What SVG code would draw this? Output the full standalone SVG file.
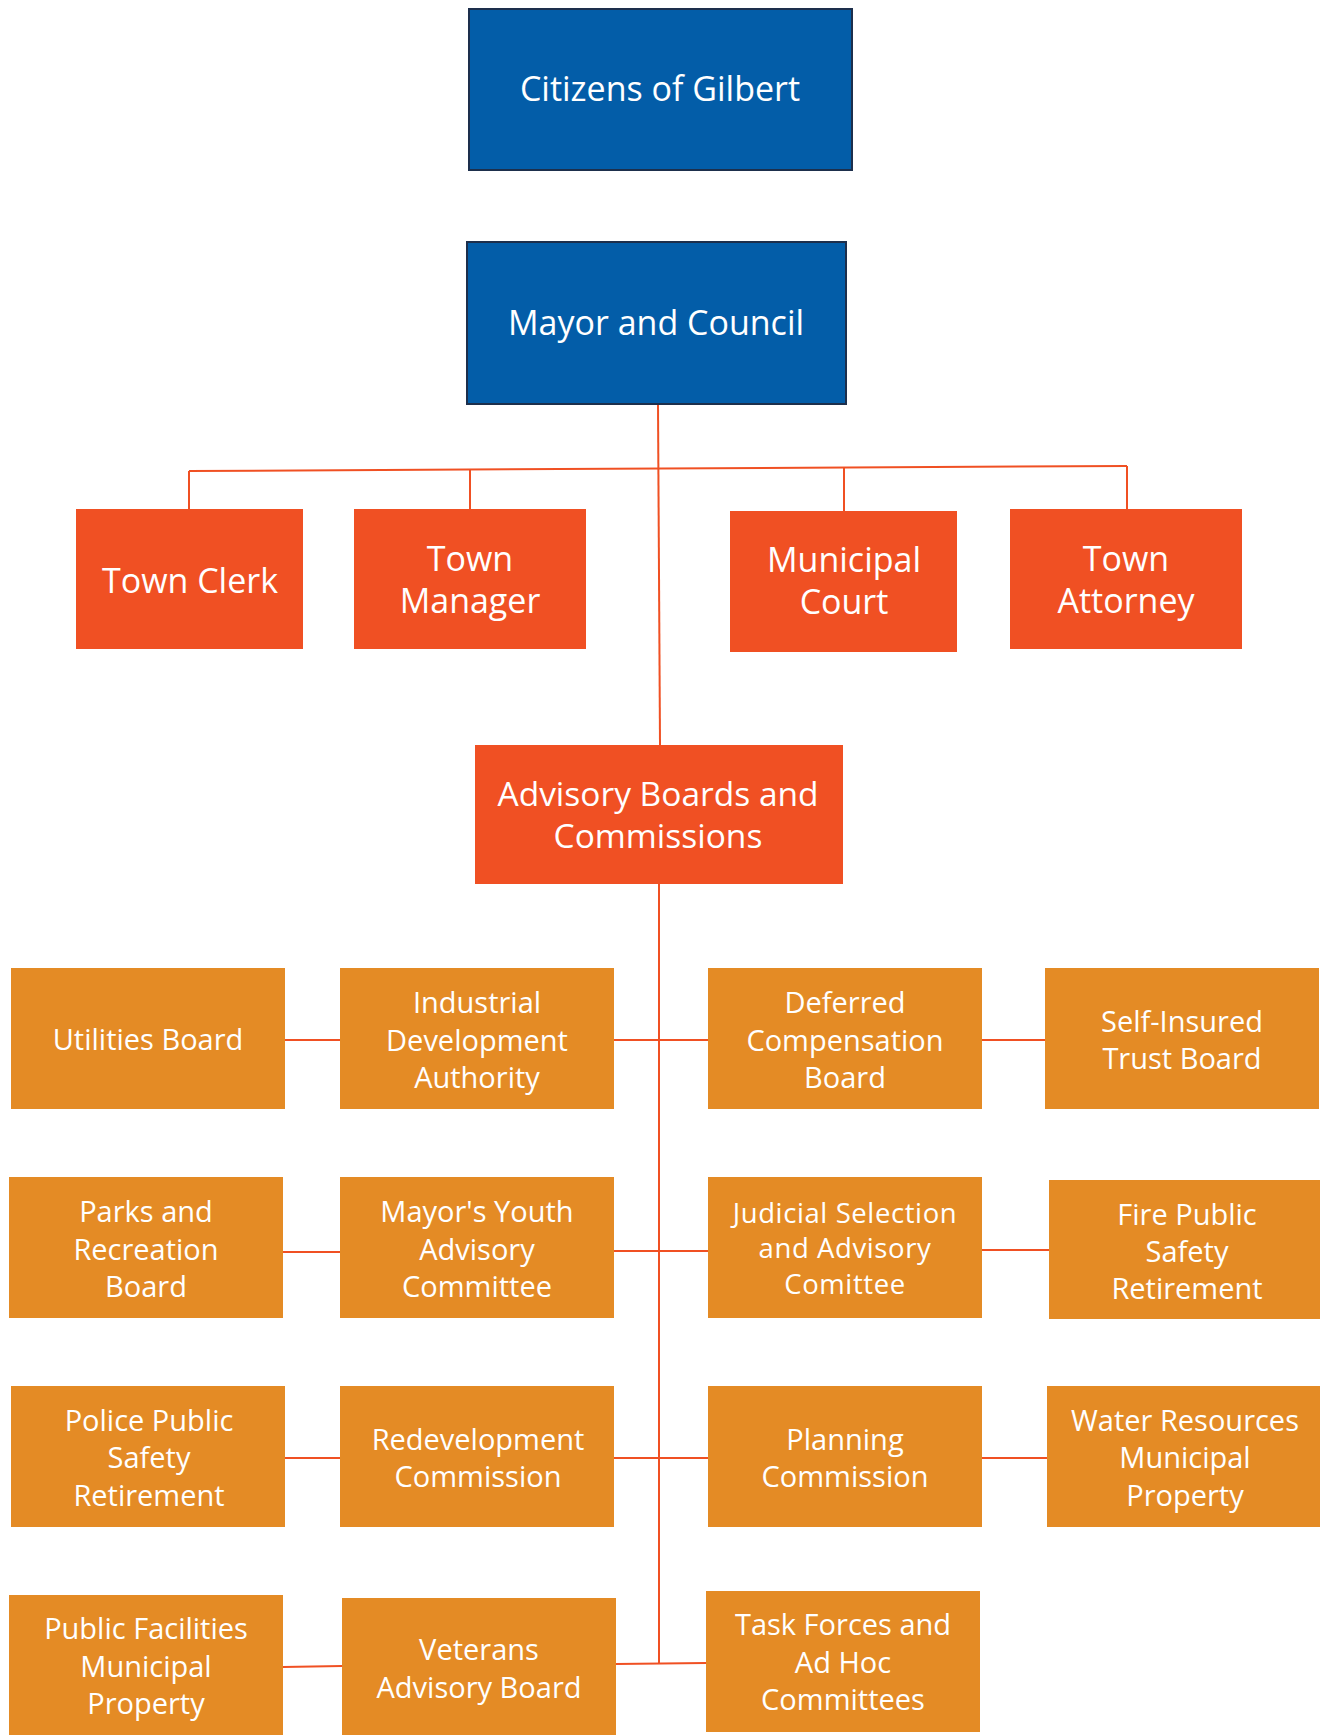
<svg xmlns="http://www.w3.org/2000/svg" width="1320" height="1735" viewBox="0 0 1320 1735">
<style>
.blue{fill:#035DA8;stroke:#1D2F4C;stroke-width:2}
.red{fill:#F05023}
.org{fill:#E48B25}
text{fill:#FFFFFF;font-family:"Open Sans","Liberation Sans",sans-serif;text-anchor:middle}
.t1{font-size:34px}
.t1b{font-size:33.5px}
.t2{font-size:29px}
.t3{font-size:27.5px;letter-spacing:0.6px}
.conn line{stroke:#F05023;stroke-width:2;fill:none}
</style>
<rect width="1320" height="1735" fill="#FFFFFF"/>
<g class="conn" id="connectors">
<line x1="658" y1="404" x2="660" y2="745"/>
<line x1="189" y1="471" x2="1127" y2="466"/>
<line x1="189" y1="471" x2="189" y2="509"/>
<line x1="470" y1="470" x2="470" y2="509"/>
<line x1="844" y1="467" x2="844" y2="511"/>
<line x1="1127" y1="466" x2="1127" y2="509"/>
<line x1="659" y1="884" x2="659" y2="1664"/>
<line x1="285" y1="1040" x2="340" y2="1040"/>
<line x1="614" y1="1040" x2="708" y2="1040"/>
<line x1="982" y1="1040" x2="1045" y2="1040"/>
<line x1="283" y1="1252" x2="340" y2="1252"/>
<line x1="614" y1="1251" x2="708" y2="1251"/>
<line x1="982" y1="1250" x2="1049" y2="1250"/>
<line x1="285" y1="1458" x2="340" y2="1458"/>
<line x1="614" y1="1458" x2="708" y2="1458"/>
<line x1="982" y1="1458" x2="1047" y2="1458"/>
<line x1="283" y1="1667" x2="342" y2="1666"/>
<line x1="616" y1="1664" x2="706" y2="1663"/>
</g>
<g id="citizens"><rect class="blue" x="469" y="9" width="383" height="161"/><text class="t1" x="660" y="101">Citizens of Gilbert</text></g>
<g id="mayor"><rect class="blue" x="467" y="242" width="379" height="162"/><text class="t1" x="656" y="335">Mayor and Council</text></g>
<g id="town-clerk"><rect class="red" x="76" y="509" width="227" height="140"/><text class="t1" x="190" y="593">Town Clerk</text></g>
<g id="town-manager"><rect class="red" x="354" y="509" width="232" height="140"/><text class="t1" x="470" y="571">Town</text><text class="t1" x="470" y="613">Manager</text></g>
<g id="municipal-court"><rect class="red" x="730" y="511" width="227" height="141"/><text class="t1" x="844" y="572">Municipal</text><text class="t1" x="844" y="614">Court</text></g>
<g id="town-attorney"><rect class="red" x="1010" y="509" width="232" height="140"/><text class="t1" x="1126" y="571">Town</text><text class="t1" x="1126" y="613">Attorney</text></g>
<g id="advisory"><rect class="red" x="475" y="745" width="368" height="139"/><text class="t1b" x="658" y="806">Advisory Boards and</text><text class="t1b" x="658" y="848">Commissions</text></g>
<g id="utilities"><rect class="org" x="11" y="968" width="274" height="141"/><text class="t2" x="148" y="1050">Utilities Board</text></g>
<g id="industrial"><rect class="org" x="340" y="968" width="274" height="141"/><text class="t2" x="477" y="1013">Industrial</text><text class="t2" x="477" y="1051">Development</text><text class="t2" x="477" y="1088">Authority</text></g>
<g id="deferred"><rect class="org" x="708" y="968" width="274" height="141"/><text class="t2" x="845" y="1013">Deferred</text><text class="t2" x="845" y="1051">Compensation</text><text class="t2" x="845" y="1088">Board</text></g>
<g id="self-insured"><rect class="org" x="1045" y="968" width="274" height="141"/><text class="t2" x="1182" y="1032">Self-Insured</text><text class="t2" x="1182" y="1069">Trust Board</text></g>
<g id="parks"><rect class="org" x="9" y="1177" width="274" height="141"/><text class="t2" x="146" y="1222">Parks and</text><text class="t2" x="146" y="1260">Recreation</text><text class="t2" x="146" y="1297">Board</text></g>
<g id="mayors-youth"><rect class="org" x="340" y="1177" width="274" height="141"/><text class="t2" x="477" y="1222">Mayor's Youth</text><text class="t2" x="477" y="1260">Advisory</text><text class="t2" x="477" y="1297">Committee</text></g>
<g id="judicial"><rect class="org" x="708" y="1177" width="274" height="141"/><text class="t3" x="845" y="1223">Judicial Selection</text><text class="t3" x="845" y="1258">and Advisory</text><text class="t3" x="845" y="1294">Comittee</text></g>
<g id="fire"><rect class="org" x="1049" y="1180" width="271" height="139"/><text class="t2" x="1187" y="1225">Fire Public</text><text class="t2" x="1187" y="1262">Safety</text><text class="t2" x="1187" y="1299">Retirement</text></g>
<g id="police"><rect class="org" x="11" y="1386" width="274" height="141"/><text class="t2" x="149" y="1431">Police Public</text><text class="t2" x="149" y="1468">Safety</text><text class="t2" x="149" y="1506">Retirement</text></g>
<g id="redevelopment"><rect class="org" x="340" y="1386" width="274" height="141"/><text class="t2" x="478" y="1450">Redevelopment</text><text class="t2" x="478" y="1487">Commission</text></g>
<g id="planning"><rect class="org" x="708" y="1386" width="274" height="141"/><text class="t2" x="845" y="1450">Planning</text><text class="t2" x="845" y="1487">Commission</text></g>
<g id="water"><rect class="org" x="1047" y="1386" width="273" height="141"/><text class="t2" x="1185" y="1431">Water Resources</text><text class="t2" x="1185" y="1468">Municipal</text><text class="t2" x="1185" y="1506">Property</text></g>
<g id="public-facilities"><rect class="org" x="9" y="1595" width="274" height="145"/><text class="t2" x="146" y="1639">Public Facilities</text><text class="t2" x="146" y="1677">Municipal</text><text class="t2" x="146" y="1714">Property</text></g>
<g id="veterans"><rect class="org" x="342" y="1598" width="274" height="142"/><text class="t2" x="479" y="1660">Veterans</text><text class="t2" x="479" y="1698">Advisory Board</text></g>
<g id="task-forces"><rect class="org" x="706" y="1591" width="274" height="141"/><text class="t2" x="843" y="1635">Task Forces and</text><text class="t2" x="843" y="1673">Ad Hoc</text><text class="t2" x="843" y="1710">Committees</text></g>
</svg>
